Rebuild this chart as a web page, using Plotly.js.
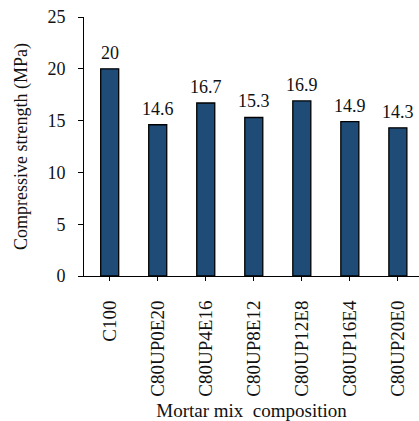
<!DOCTYPE html>
<html>
<head>
<meta charset="utf-8">
<script src="https://cdn.plot.ly/plotly-3.0.1.min.js"></script>
<style>
  html, body { margin: 0; padding: 0; background: #fff; }
  #chart { width: 419px; height: 421px; }
</style>
</head>
<body>
<div id="chart"></div>
<script>
// Mortar mixes and their compressive strength (MPa)
const mixes = ["C100", "C80UP0E20", "C80UP4E16", "C80UP8E12", "C80UP12E8", "C80UP16E4", "C80UP20E0"];
const strength = [20, 14.6, 16.7, 15.3, 16.9, 14.9, 14.3];
const yTicks = [0, 5, 10, 15, 20, 25];

const serif = "Liberation Serif, Times New Roman, serif";
const xs = mixes.map((_, i) => i);

const trace = {
  type: "bar",
  x: xs,
  y: strength,
  width: 0.375,
  marker: { color: "#1f4b77", line: { color: "#000", width: 1.3 } },
  hoverinfo: "skip"
};

// value labels sitting just above each bar
const labels = strength.map((v, i) => ({
  x: xs[i],
  y: v,
  xref: "x",
  yref: "y",
  text: String(v),
  showarrow: false,
  yanchor: "bottom",
  yshift: 4,
  font: { family: serif, size: 18, color: "#111" }
}));

const layout = {
  width: 419,
  height: 421,
  margin: { l: 84, r: 0, t: 17, b: 145 },
  paper_bgcolor: "#fff",
  plot_bgcolor: "#fff",
  showlegend: false,
  font: { family: serif, size: 18, color: "#111" },
  annotations: labels,
  xaxis: {
    range: [-0.535, 6.44],
    tickvals: xs,
    ticktext: mixes,
    tickangle: -90,
    ticks: "outside",
    ticklen: 4,
    tickwidth: 1,
    tickcolor: "#000",
    ticklabelstandoff: 12,
    showline: true,
    linecolor: "#000",
    linewidth: 1,
    showgrid: false,
    zeroline: false,
    tickfont: { family: serif, size: 19, color: "#111" },
    title: { text: "Mortar mix\u00a0 composition", font: { family: serif, size: 19, color: "#111" }, standoff: 9 }
  },
  yaxis: {
    range: [0, 25],
    tickvals: yTicks,
    ticks: "outside",
    ticklen: 5,
    tickwidth: 1,
    tickcolor: "#000",
    ticklabelstandoff: 9,
    showline: true,
    linecolor: "#000",
    linewidth: 1,
    showgrid: false,
    zeroline: false,
    tickfont: { family: serif, size: 18, color: "#111" },
    title: { text: "Compressive strength (MPa)", font: { family: serif, size: 18, color: "#111" }, standoff: 15 }
  },
  bargap: 0
};

Plotly.newPlot("chart", [trace], layout, { staticPlot: true, displayModeBar: false });
</script>
</body>
</html>
